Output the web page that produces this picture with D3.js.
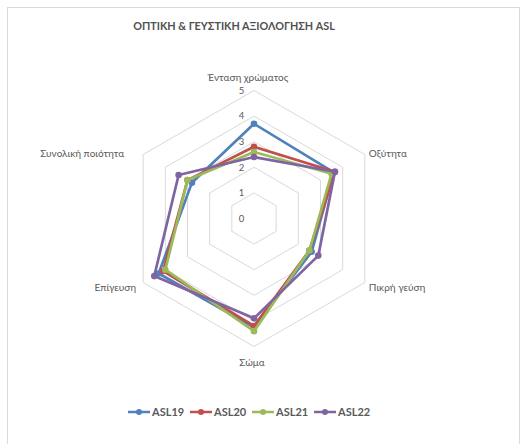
<!DOCTYPE html>
<html lang="el">
<head>
<meta charset="UTF-8">
<script src="https://d3js.org/d3.v7.min.js"></script>
<style>
  body { margin: 0; background: #fff; }
  text { font-family: Lato, "Open Sans", sans-serif; }
</style>
</head>
<body>
<svg id="radar" width="525" height="444"></svg>
<script>
// data
const axes = ["Ένταση χρώματος", "Οξύτητα", "Πικρή γεύση", "Σώμα", "Επίγευση", "Συνολική ποιότητα"];
const seriesNames = ["ASL19", "ASL20", "ASL21", "ASL22"];
const asl19 = [3.7, 3.6, 2.6, 4.25, 4.3, 2.8];
const asl20 = [2.8, 3.65, 2.5, 4.2, 4.1, 3.0];
const asl21 = [2.6, 3.5, 2.5, 4.4, 4.0, 3.0];
const asl22 = [2.4, 3.65, 2.9, 3.9, 4.5, 3.4];
const ticks = [0, 1, 2, 3, 4, 5];

const colors = ["#4F81BD", "#C0504D", "#9BBB59", "#8064A2"];
const allSeries = [asl19, asl20, asl21, asl22];

const svg = d3.select("svg#radar");
const cx = 254, cy = 218.5;

// chart frame
svg.append("rect")
  .attr("x", 7.5).attr("y", 7.5)
  .attr("width", 512).attr("height", 440)
  .attr("fill", "none").attr("stroke", "#d9d9d9");

svg.append("text")
  .attr("x", 234).attr("y", 30)
  .attr("text-anchor", "middle")
  .attr("font-size", 10.8).attr("font-weight", "bold")
  .attr("fill", "#505050")
  .text("ΟΠΤΙΚΗ & ΓΕΥΣΤΙΚΗ ΑΞΙΟΛΟΓΗΣΗ ASL");

const r = d3.scaleLinear().domain([0, 5]).range([0, 128]);
const angle = i => i * Math.PI / 3;
const px = (i, v) => cx + r(v) * Math.sin(angle(i));
const py = (i, v) => cy - r(v) * Math.cos(angle(i));

const grid = svg.append("g");
ticks.filter(t => t > 0).forEach(t => {
  grid.append("polygon")
    .attr("points", axes.map((a, i) => px(i, t) + "," + py(i, t)).join(" "))
    .attr("fill", "none")
    .attr("stroke", "#d9d9d9")
    .attr("stroke-width", 1);
});

// tick labels on the first axis
svg.append("g").selectAll("text")
  .data(ticks).join("text")
  .attr("x", cx - 12.5)
  .attr("y", d => py(0, d))
  .attr("dy", "0.35em")
  .attr("text-anchor", "middle")
  .attr("font-size", 9.5)
  .attr("fill", "#595959")
  .text(d => d);

// category labels
const labelOff = [
  { dx: -6, dy: -13, anchor: "middle" },
  { dx: 4, dy: -1, anchor: "start" },
  { dx: 4, dy: 5, anchor: "start" },
  { dx: -2, dy: 16, anchor: "middle" },
  { dx: -7, dy: 5, anchor: "end" },
  { dx: -19, dy: -1, anchor: "end" }
];
svg.append("g").selectAll("text")
  .data(axes).join("text")
  .attr("x", (d, i) => px(i, 5) + labelOff[i].dx)
  .attr("y", (d, i) => py(i, 5) + labelOff[i].dy)
  .attr("dy", "0.35em")
  .attr("text-anchor", (d, i) => labelOff[i].anchor)
  .attr("font-size", 10)
  .attr("fill", "#595959")
  .text(d => d);

// series
const line = d3.line()
  .x((d, i) => px(i, d))
  .y((d, i) => py(i, d))
  .curve(d3.curveLinearClosed);

allSeries.forEach((vals, k) => {
  const g = svg.append("g");
  g.append("path")
    .datum(vals)
    .attr("d", line)
    .attr("fill", "none")
    .attr("stroke", colors[k])
    .attr("stroke-width", 2.7)
    .attr("stroke-linejoin", "round");
  g.selectAll("circle")
    .data(vals).join("circle")
    .attr("cx", (d, i) => px(i, d))
    .attr("cy", (d, i) => py(i, d))
    .attr("r", 3.3)
    .attr("fill", colors[k]);
});

// legend
const legend = svg.append("g").attr("transform", "translate(128,412)");
const item = legend.selectAll("g")
  .data(seriesNames).join("g")
  .attr("transform", (d, i) => "translate(" + (i * 62) + ",0)");
item.append("line")
  .attr("x1", 0).attr("x2", 22)
  .attr("stroke", (d, i) => colors[i])
  .attr("stroke-width", 2.5);
item.append("circle")
  .attr("cx", 11).attr("r", 3)
  .attr("fill", (d, i) => colors[i]);
item.append("text")
  .attr("x", 24).attr("dy", "0.35em")
  .attr("font-size", 11).attr("font-weight", "bold")
  .attr("fill", "#595959")
  .text(d => d);
</script>
</body>
</html>
